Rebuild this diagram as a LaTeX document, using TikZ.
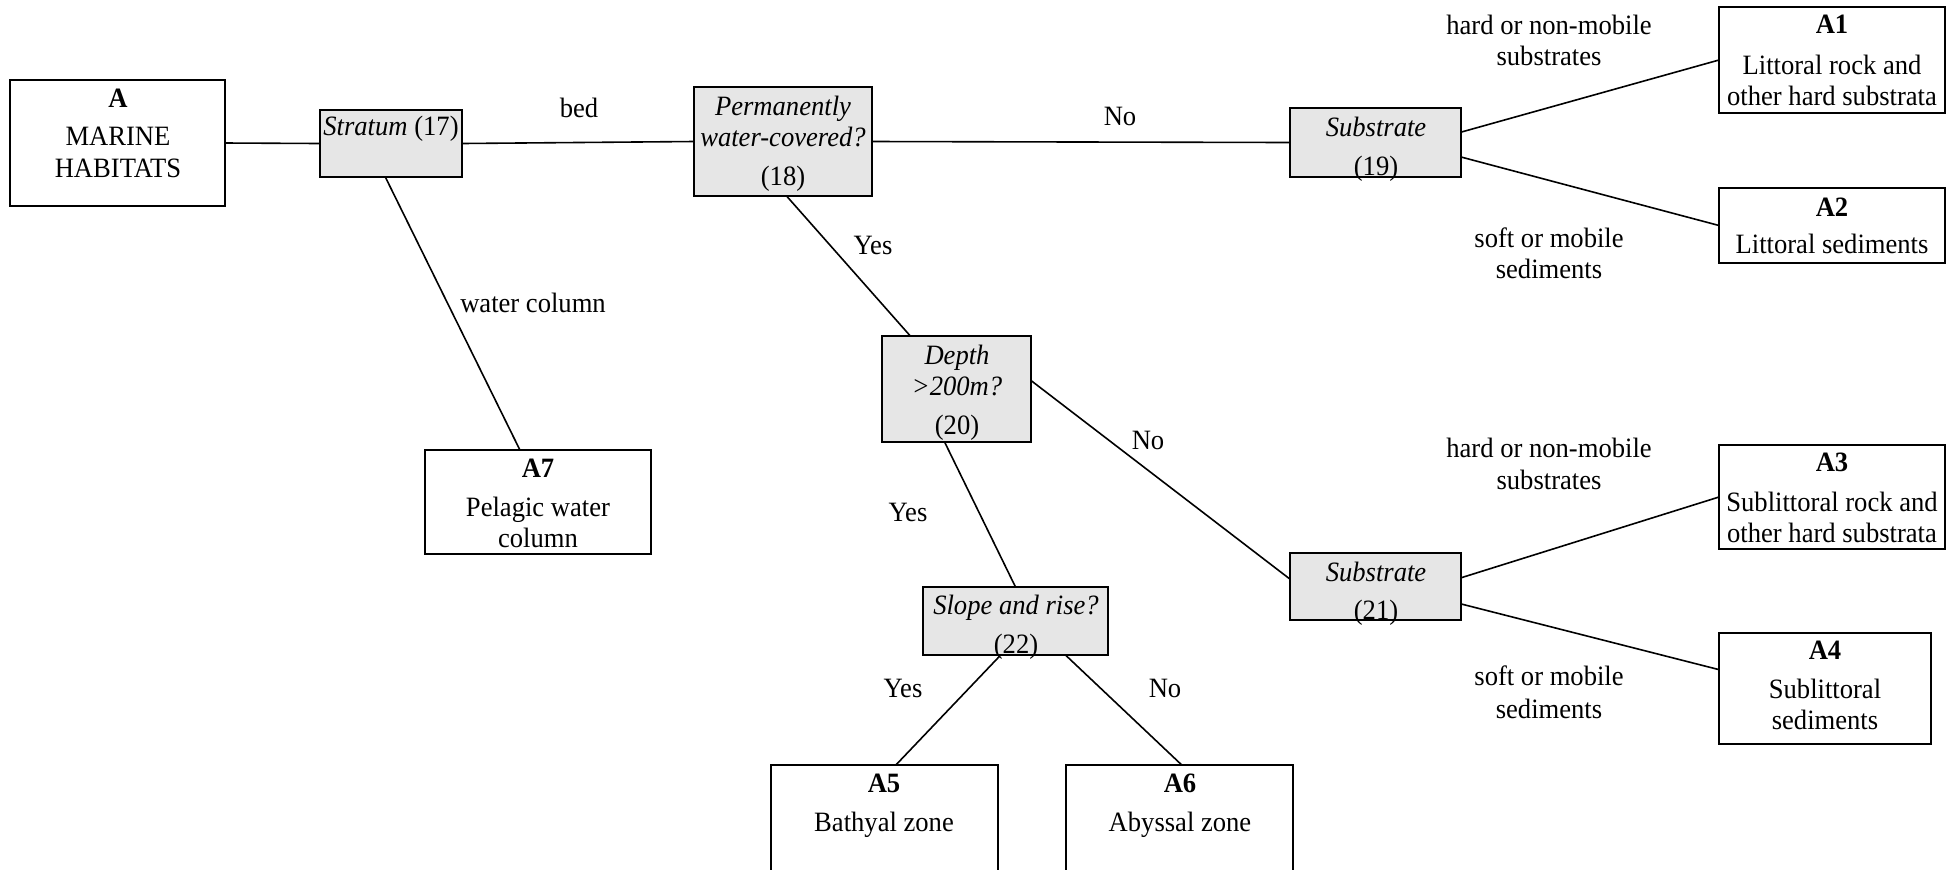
\documentclass[tikz,border=0pt]{standalone}
\usepackage{fontspec}
\setmainfont[FakeStretch=0.95]{Liberation Serif}
\usetikzlibrary{calc,fit}
\definecolor{qfill}{RGB}{230,230,230}
\tikzset{
  box/.style={draw, line width=1pt, inner sep=0pt, outer sep=0pt},
  leaf/.style={box, fill=white},
  ask/.style={box, fill=qfill},
  lbl/.style={anchor=base, inner sep=0pt, font=\fontsize{14pt}{16pt}\selectfont},
  link/.style={line width=0.8pt},
}
\begin{document}
\begin{tikzpicture}[x=0.5pt,y=-0.5pt]
\useasboundingbox (0,0) rectangle (1953,869);
\clip (0,0) rectangle (1953,869);

% boxes: habitat classes (white) and questions (grey)
\node[leaf, fit={(10,80) (225,206)}] (A) {};
\node[ask,  fit={(320,110) (462,177)}] (Q17) {};
\node[ask,  fit={(694,87) (872,196)}] (Q18) {};
\node[ask,  fit={(1290,108) (1461,177)}] (Q19) {};
\node[leaf, fit={(1719,7) (1945,113)}] (A1) {};
\node[leaf, fit={(1719,188) (1945,263)}] (A2) {};
\node[leaf, fit={(425,450) (651,554)}] (A7) {};
\node[ask,  fit={(882,336) (1031,442)}] (Q20) {};
\node[ask,  fit={(1290,553) (1461,620)}] (Q21) {};
\node[leaf, fit={(1719,445) (1945,549)}] (A3) {};
\node[leaf, fit={(1719,633) (1931,744)}] (A4) {};
\node[ask,  fit={(923,587) (1108,655)}] (Q22) {};
\node[leaf, fit={(771,765) (998,900)}] (A5) {};
\node[leaf, fit={(1066,765) (1293,900)}] (A6) {};

% connectors
\draw[link] (A.east) -- (Q17.west);
\draw[link] (Q17.east) -- (Q18.west);
\draw[link] (Q18.east) -- (Q19.west);
\draw[link] ($(Q19.north east)!0.35!(Q19.south east)$) -- (A1.west);
\draw[link] ($(Q19.north east)!0.71!(Q19.south east)$) -- (A2.west);
\draw[link] ($(Q17.south west)!0.46!(Q17.south east)$) -- ($(A7.north west)!0.42!(A7.north east)$);
\draw[link] ($(Q18.south west)!0.52!(Q18.south east)$) -- ($(Q20.north west)!0.19!(Q20.north east)$);
\draw[link] ($(Q20.north east)!0.42!(Q20.south east)$) -- ($(Q21.north west)!0.39!(Q21.south west)$);
\draw[link] ($(Q21.north east)!0.37!(Q21.south east)$) -- (A3.west);
\draw[link] ($(Q21.north east)!0.76!(Q21.south east)$) -- ($(A4.north west)!0.33!(A4.south west)$);
\draw[link] ($(Q20.south west)!0.42!(Q20.south east)$) -- ($(Q22.north west)!0.50!(Q22.north east)$);
\draw[link] ($(Q22.south west)!0.42!(Q22.south east)$) -- ($(A5.north west)!0.55!(A5.north east)$);
\draw[link] ($(Q22.south west)!0.77!(Q22.south east)$) -- ($(A6.north west)!0.51!(A6.north east)$);

% box texts
\node[lbl] (tA1) at (118,107) {\textbf{A}};
\node[lbl] (tA2) at (118,145) {MARINE};
\node[lbl] (tA3) at (118,177) {HABITATS};

\node[lbl] (t17) at (391,135) {\textit{Stratum} (17)};

\node[lbl] (t18a) at (783,115) {\textit{Permanently}};
\node[lbl] (t18b) at (783,146) {\textit{water-covered?}};
\node[lbl] (t18c) at (783,185) {(18)};

\node[lbl] (t19a) at (1376,136) {\textit{Substrate}};
\node[lbl] (t19b) at (1376,175) {(19)};

\node[lbl] (tA1a) at (1832,33) {\textbf{A1}};
\node[lbl] (tA1b) at (1832,74) {Littoral rock and};
\node[lbl] (tA1c) at (1832,105) {other hard substrata};

\node[lbl] (tA2a) at (1832,216) {\textbf{A2}};
\node[lbl] (tA2b) at (1832,253) {Littoral sediments};

\node[lbl] (tA7a) at (538,477) {\textbf{A7}};
\node[lbl] (tA7b) at (538,516) {Pelagic water};
\node[lbl] (tA7c) at (538,547) {column};

\node[lbl] (t20a) at (957,364) {\textit{Depth}};
\node[lbl] (t20b) at (957,395) {\textit{>200m?}};
\node[lbl] (t20c) at (957,434) {(20)};

\node[lbl] (t21a) at (1376,581) {\textit{Substrate}};
\node[lbl] (t21b) at (1376,619) {(21)};

\node[lbl] (tA3a) at (1832,471) {\textbf{A3}};
\node[lbl] (tA3b) at (1832,511) {Sublittoral rock and};
\node[lbl] (tA3c) at (1832,542) {other hard substrata};

\node[lbl] (tA4a) at (1825,659) {\textbf{A4}};
\node[lbl] (tA4b) at (1825,698) {Sublittoral};
\node[lbl] (tA4c) at (1825,729) {sediments};

\node[lbl] (t22a) at (1016,614) {\textit{Slope and rise?}};
\node[lbl] (t22b) at (1016,653) {(22)};

\node[lbl] (tA5a) at (884,792) {\textbf{A5}};
\node[lbl] (tA5b) at (884,831) {Bathyal zone};

\node[lbl] (tA6a) at (1180,792) {\textbf{A6}};
\node[lbl] (tA6b) at (1180,831) {Abyssal zone};

% connector labels
\node[lbl] (lbed) at (579,117) {bed};
\node[lbl] (lno1) at (1120,125) {No};
\node[lbl] (lh1a) at (1549,34) {hard or non-mobile};
\node[lbl] (lh1b) at (1549,65) {substrates};
\node[lbl] (ls1a) at (1549,247) {soft or mobile};
\node[lbl] (ls1b) at (1549,278) {sediments};
\node[lbl] (lwc) at (533,312) {water column};
\node[lbl] (lyes1) at (873,254) {Yes};
\node[lbl] (lno2) at (1148,449) {No};
\node[lbl] (lh2a) at (1549,457) {hard or non-mobile};
\node[lbl] (lh2b) at (1549,489) {substrates};
\node[lbl] (ls2a) at (1549,685) {soft or mobile};
\node[lbl] (ls2b) at (1549,718) {sediments};
\node[lbl] (lyes2) at (908,521) {Yes};
\node[lbl] (lyes3) at (903,697) {Yes};
\node[lbl] (lno3) at (1165,697) {No};
\end{tikzpicture}
\end{document}
